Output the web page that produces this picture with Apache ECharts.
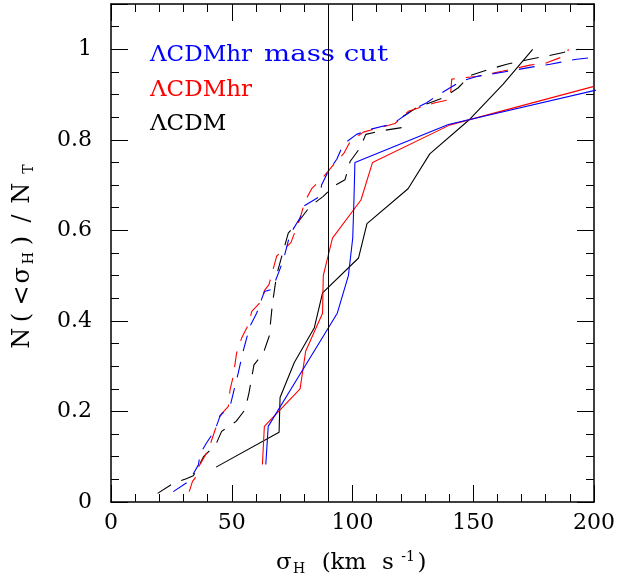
<!DOCTYPE html>
<html>
<head>
<meta charset="utf-8">
<script src="https://cdn.jsdelivr.net/npm/echarts@6/dist/echarts.min.js"></script>
<style>
html,body{margin:0;padding:0;background:#fff;}
#chart{width:634px;height:582px;}
</style>
</head>
<body>
<div id="chart"></div>
<script>
// ---- data ----
const legendLabels = ['ΛCDMhr mass cut', 'ΛCDMhr', 'ΛCDM'];
const xTickValues = [0, 50, 100, 150, 200];
const yTickValues = [0, 0.2, 0.4, 0.6, 0.8, 1];
const cutLine = 90;

// solid curves
const massCutSolid = [[64.1,0.083],[65.1,0.167],[74.6,0.25],[84.1,0.333],[93.7,0.417],[98.3,0.5],[100.1,0.583],[100.6,0.667],[101,0.75],[139.7,0.834],[206.6,0.917]];
const hrSolid = [[62.7,0.083],[63.5,0.167],[78.3,0.25],[80.6,0.333],[87.6,0.417],[87.9,0.5],[91.7,0.583],[103.5,0.667],[108.3,0.75],[140.4,0.833],[200,0.918]];
const lcdmSolid = [[43.5,0.077],[69.6,0.154],[70,0.231],[75.9,0.308],[84.2,0.385],[87.6,0.462],[102.5,0.539],[106,0.615],[123,0.692],[132,0.769],[148.7,0.846],[162.4,0.923],[174.6,1.0]];

// dashed curves
const massCutDashed = [[25.8,0.023],[32,0.045],[33.4,0.056],[36.2,0.082],[36.9,0.106],[39.6,0.131],[43.1,0.159],[45.1,0.189],[49.6,0.218],[51.3,0.255],[52.7,0.285],[54.5,0.329],[57.5,0.388],[60.3,0.417],[63.5,0.465],[66.8,0.47],[71.4,0.535],[74.1,0.591],[78.3,0.628],[79.6,0.653],[86.5,0.675],[87.2,0.7],[90,0.731],[93.5,0.757],[96.2,0.79],[101.7,0.812],[107.2,0.823],[116.9,0.836],[125.2,0.867],[130.7,0.882],[134.9,0.897],[140.4,0.915],[145.2,0.93],[151.4,0.94],[165.2,0.952],[173.5,0.96],[181.8,0.967],[192.8,0.978],[200,0.982]];
const hrDashed = [[32.4,0.023],[33.7,0.045],[35.5,0.058],[36.2,0.077],[40.3,0.115],[43.1,0.159],[45.1,0.191],[48.6,0.211],[49.3,0.248],[50.6,0.277],[52,0.329],[54.1,0.362],[56.9,0.392],[58.3,0.421],[63.1,0.448],[63.5,0.467],[65.4,0.48],[68.6,0.543],[74.5,0.573],[78.3,0.627],[80.3,0.664],[83.1,0.692],[88.2,0.72],[92.8,0.749],[96.4,0.77],[99,0.796],[104.5,0.817],[117.6,0.836],[123.1,0.863],[134.2,0.882],[140.4,0.889],[141.1,0.934],[145.9,0.937],[151.4,0.94],[162.4,0.952],[173.5,0.965],[180.4,0.97],[188.7,0.987],[189.4,1.0]];
const lcdmDashed = [[19.3,0.019],[25.1,0.039],[30.9,0.051],[34.1,0.058],[36.2,0.078],[38.3,0.1],[43.5,0.128],[45.8,0.156],[51.8,0.178],[55.5,0.204],[57.1,0.24],[59.2,0.303],[63.1,0.329],[65.5,0.366],[66.8,0.436],[68.6,0.502],[71.1,0.55],[73.4,0.594],[78.3,0.624],[82.4,0.653],[87.9,0.675],[92.3,0.698],[96.9,0.712],[99,0.752],[103.1,0.782],[105.5,0.812],[112,0.82],[120.4,0.827],[121,0.852],[126.6,0.871],[132.1,0.882],[137.6,0.893],[143.8,0.915],[148.7,0.942],[155.6,0.954],[163.9,0.967],[173.5,0.978],[180.4,0.985],[187.3,0.993],[193.5,1.0]];

// ---- chart ----
const FONT = '"DejaVu Serif", serif';
const BLUE = '#0000ff', RED = '#ff0000', BLACK = '#000000';
const DASH = [16, 11];

function tok(size, width, extra) {
  return Object.assign({ fontFamily: FONT, fontSize: size, color: BLACK, lineHeight: 26, width: width, align: 'center' }, extra || {});
}
const SUB = { lineHeight: 14, verticalAlign: 'bottom' };
const SUP = { lineHeight: 14, verticalAlign: 'top' };

const xNameRich = {
  xs: tok(23, 17, { align: 'left' }),
  xH: tok(14, 20, Object.assign({ align: 'left' }, SUB)),
  xk: tok(23, 62),
  xsS: tok(23, 26, { align: 'right' }),
  xp: tok(14, 14, Object.assign({ align: 'left' }, SUP)),
  xr: tok(23, 14, { align: 'left' })
};
const yNameRich = {
  n1: tok(24, 19.5), p1: tok(24, 22), lt: tok(24, 22), sg: tok(24, 18.5),
  hh: tok(14, 15.5, SUB), p2: tok(24, 20), sl: tok(24, 24), n2: tok(24, 26.5),
  tt: tok(14, 22, Object.assign({ align: 'left' }, SUB))
};

function xAx(pos, withLabels, major) {
  return {
    type: 'value', position: pos, min: 0, max: 200, interval: major ? 50 : 10,
    axisLine: { show: major, onZero: false, lineStyle: { color: BLACK, width: 1.5 } },
    axisTick: { show: true, inside: true, length: major ? 17 : 8, lineStyle: { color: BLACK, width: 1 } },
    axisLabel: { show: withLabels, color: BLACK, fontFamily: FONT, fontSize: 22, margin: 10,
      formatter: v => xTickValues.indexOf(v) >= 0 ? String(v) : '' },
    splitLine: { show: false },
    name: withLabels ? '{xs|σ}{xH|H}{xk|(km}{xsS|s}{xp|-1}{xr|)}' : '',
    nameLocation: 'middle', nameGap: 48,
    nameTextStyle: { color: BLACK, fontFamily: FONT, fontSize: 23, rich: xNameRich }
  };
}
function yAx(pos, withLabels, major) {
  return {
    type: 'value', position: pos, min: 0, max: 1.1, interval: major ? 0.2 : 0.05,
    axisLine: { show: major, onZero: false, lineStyle: { color: BLACK, width: 1.5 } },
    axisTick: { show: true, inside: true, length: major ? 17 : 8, lineStyle: { color: BLACK, width: 1 } },
    axisLabel: { show: withLabels, color: BLACK, fontFamily: FONT, fontSize: 22, margin: 19,
      formatter: v => { const r = Math.round(v * 10) / 10; return yTickValues.some(t => Math.abs(t - v) < 1e-6) ? String(r) : ''; } },
    splitLine: { show: false },
    name: withLabels ? '{n1|N}{p1|(}{lt|<}{sg|σ}{hh|H}{p2|)}{sl|/}{n2|N}{tt|T}' : '',
    nameLocation: 'middle', nameGap: 75, nameRotate: 90,
    nameTextStyle: { color: BLACK, fontFamily: FONT, fontSize: 24, rich: yNameRich }
  };
}

function ser(name, data, color, dashed) {
  return {
    name: name, type: 'line', data: data, showSymbol: false, symbol: 'none',
    lineStyle: { color: color, width: 1.1, type: dashed ? DASH : 'solid' },
    itemStyle: { color: color }, clip: true, silent: true, animation: false, z: 3
  };
}

const chart = echarts.init(document.getElementById('chart'), null, { renderer: 'canvas' });
const series = [
  ser(legendLabels[2] + ' dashed', lcdmDashed, BLACK, true),
  ser(legendLabels[1] + ' dashed', hrDashed, RED, true),
  ser(legendLabels[0] + ' dashed', massCutDashed, BLUE, true),
  ser(legendLabels[2], lcdmSolid, BLACK, false),
  ser(legendLabels[1], hrSolid, RED, false),
  ser(legendLabels[0], massCutSolid, BLUE, false)
];
series[0].markLine = {
  silent: true, symbol: 'none', label: { show: false }, animation: false,
  lineStyle: { color: BLACK, width: 1, type: 'solid' },
  data: [{ xAxis: cutLine }]
};

const blueParts = legendLabels[0].split(' ');   // 'ΛCDMhr', 'mass', 'cut'
chart.setOption({
  animation: false,
  backgroundColor: '#ffffff',
  grid: { left: 111, right: 40, top: 4, bottom: 80, containLabel: false },
  xAxis: [xAx('bottom', true, true), xAx('bottom', false, false), xAx('top', false, true), xAx('top', false, false)],
  yAxis: [yAx('left', true, true), yAx('left', false, false), yAx('right', false, true), yAx('right', false, false)],
  graphic: [
    { type: 'text', x: 150, y: 55, style: { text: blueParts[0], fill: BLUE, fontFamily: FONT, fontSize: 23, verticalAlign: 'middle' } },
    { type: 'text', x: 264, y: 55, scaleX: 1.2, style: { text: blueParts.slice(1).join(' '), fill: BLUE, fontFamily: FONT, fontSize: 23, verticalAlign: 'middle' } },
    { type: 'text', x: 150, y: 90, style: { text: legendLabels[1], fill: RED, fontFamily: FONT, fontSize: 23, verticalAlign: 'middle' } },
    { type: 'text', x: 150, y: 124, style: { text: legendLabels[2], fill: BLACK, fontFamily: FONT, fontSize: 23, verticalAlign: 'middle' } }
  ],
  series: series
});
</script>
</body>
</html>
